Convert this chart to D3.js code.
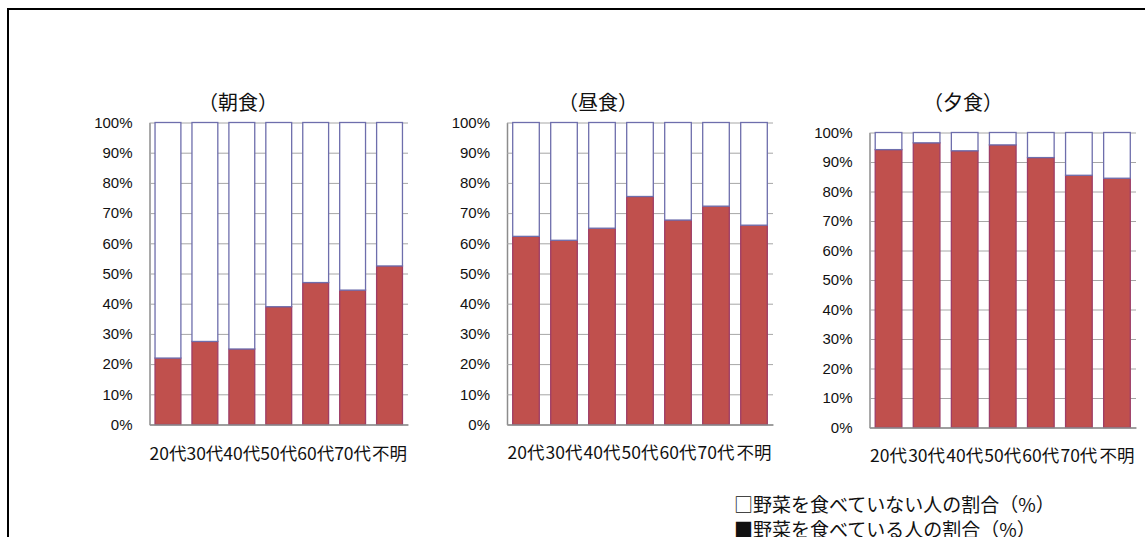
<!DOCTYPE html>
<html lang="ja">
<head>
<meta charset="utf-8">
<script src="https://cdn.jsdelivr.net/npm/d3@7"></script>
<style>
	html, body { margin: 0; padding: 0; background: #ffffff; }
	svg { display: block; }
	.tickText { font-family: "Liberation Sans", Arial, sans-serif; font-size: 15px; fill: #111; }
	.catText { font-family: "Noto Sans CJK JP", sans-serif; font-size: 17.5px; fill: #111; }
	.titleText { font-family: "Noto Sans CJK JP", sans-serif; font-size: 20px; fill: #111; }
	.legendText { font-family: "Noto Sans CJK JP", sans-serif; font-size: 19px; fill: #111; }
</style>
</head>
<body>
<script>

// age groups
var categories = ["20代", "30代", "40代", "50代", "60代", "70代", "不明"];
var yTicks = [0, 0.1, 0.2, 0.3, 0.4, 0.5, 0.6, 0.7, 0.8, 0.9, 1.0];

// share of people eating vegetables (%)
var breakfastEat = [22, 27.5, 25, 39, 47, 44.5, 52.5];
var lunchEat     = [62.3, 61, 65, 75.5, 67.7, 72.3, 66];
var dinnerEat    = [94.2, 96.5, 93.8, 95.8, 91.5, 85.5, 84.5];

// share of people not eating vegetables (%)
var breakfastNot = [78, 72.5, 75, 61, 53, 55.5, 47.5];
var lunchNot     = [37.7, 39, 35, 24.5, 32.3, 27.7, 34];
var dinnerNot    = [5.8, 3.5, 6.2, 4.2, 8.5, 14.5, 15.5];

var titles = ["（朝食）", "（昼食）", "（夕食）"];
var legendLabels = ["□野菜を食べていない人の割合（%）", "■野菜を食べている人の割合（%）"];

var W = 1145, H = 537;

var svg = d3.select("body").append("svg")
	.attr("width", W)
	.attr("height", H);

// outer frame (only top and left edges are in view)
svg.append("path")
	.attr("d", "M8,537 L8,9 L1145,9")
	.attr("fill", "none")
	.attr("stroke", "#000")
	.attr("stroke-width", 2);

var panels = [
	{ eat: breakfastEat, not: breakfastNot, title: titles[0], x0: 149.5, x1: 408, y0: 424.5, y1: 122.5, titleX: 238, catY: 452 },
	{ eat: lunchEat,     not: lunchNot,     title: titles[1], x0: 507,   x1: 773, y0: 424.5, y1: 122.5, titleX: 598, catY: 451 },
	{ eat: dinnerEat,    not: dinnerNot,    title: titles[2], x0: 869.5, x1: 1136, y0: 427.5, y1: 132.5, titleX: 963, catY: 454 }
];

panels.forEach(function(p)
{
	var rows = categories.map(function(c, i)
	{
		return { cat: c, eat: p.eat[i], not: p.not[i] };
	});

	var stack = d3.stack()
		.keys(["eat", "not"])
		.offset(d3.stackOffsetExpand);

	var series = stack(rows);

	var x = d3.scaleBand()
		.domain(categories)
		.range([p.x0, p.x1])
		.paddingInner(0.3)
		.paddingOuter(0.15);

	var y = d3.scaleLinear()
		.domain([0, 1])
		.range([p.y0, p.y1]);

	var g = svg.append("g");

	// y axis with gridlines
	var yAxis = g.append("g")
		.attr("transform", "translate(" + p.x0 + ",0)")
		.call(d3.axisLeft(y)
			.tickValues(yTicks)
			.tickFormat(d3.format(".0%"))
			.tickSizeInner(-(p.x1 - p.x0))
			.tickSizeOuter(0)
			.tickPadding(17));

	yAxis.select(".domain")
		.attr("stroke", "#8c8c8c")
		.attr("stroke-width", 1.5);

	yAxis.selectAll(".tick line")
		.attr("stroke", "#a6a6a6")
		.attr("stroke-width", 1);

	yAxis.selectAll(".tick text")
		.attr("class", "tickText")
		.attr("fill", "#111");

	// bars
	var colors = { eat: "#c0504d", not: "#ffffff" };
	var strokes = { eat: "#9e3d66", not: "#6e6eac" };

	g.selectAll(".layer")
		.data(series)
		.enter()
		.append("g")
		.attr("class", "layer")
		.each(function(s)
		{
			d3.select(this).selectAll("rect")
				.data(s)
				.enter()
				.append("rect")
				.attr("x", function(d) { return x(d.data.cat); })
				.attr("width", x.bandwidth())
				.attr("y", function(d) { return y(d[1]); })
				.attr("height", function(d) { return y(d[0]) - y(d[1]); })
				.attr("fill", colors[s.key])
				.attr("stroke", strokes[s.key])
				.attr("stroke-width", 1.3);
		});

	// x baseline
	var xAxis = g.append("g")
		.attr("transform", "translate(0," + p.y0 + ")")
		.call(d3.axisBottom(x).tickSize(0).tickFormat(""));

	xAxis.select(".domain")
		.attr("stroke", "#8c8c8c")
		.attr("stroke-width", 1.5);

	// category labels
	g.selectAll(".catText")
		.data(categories)
		.enter()
		.append("text")
		.attr("class", "catText")
		.attr("x", function(d) { return x(d) + x.bandwidth() / 2; })
		.attr("y", p.catY)
		.attr("text-anchor", "middle")
		.attr("dominant-baseline", "central")
		.text(function(d) { return d; });

	// title
	g.append("text")
		.attr("class", "titleText")
		.attr("x", p.titleX)
		.attr("y", 101)
		.attr("text-anchor", "middle")
		.attr("dominant-baseline", "central")
		.text(p.title);
});

// legend
svg.selectAll(".legendText")
	.data(legendLabels)
	.enter()
	.append("text")
	.attr("class", "legendText")
	.attr("x", 734)
	.attr("y", function(d, i) { return 503 + i * 25; })
	.attr("dominant-baseline", "central")
	.text(function(d) { return d; });

</script>
</body>
</html>
